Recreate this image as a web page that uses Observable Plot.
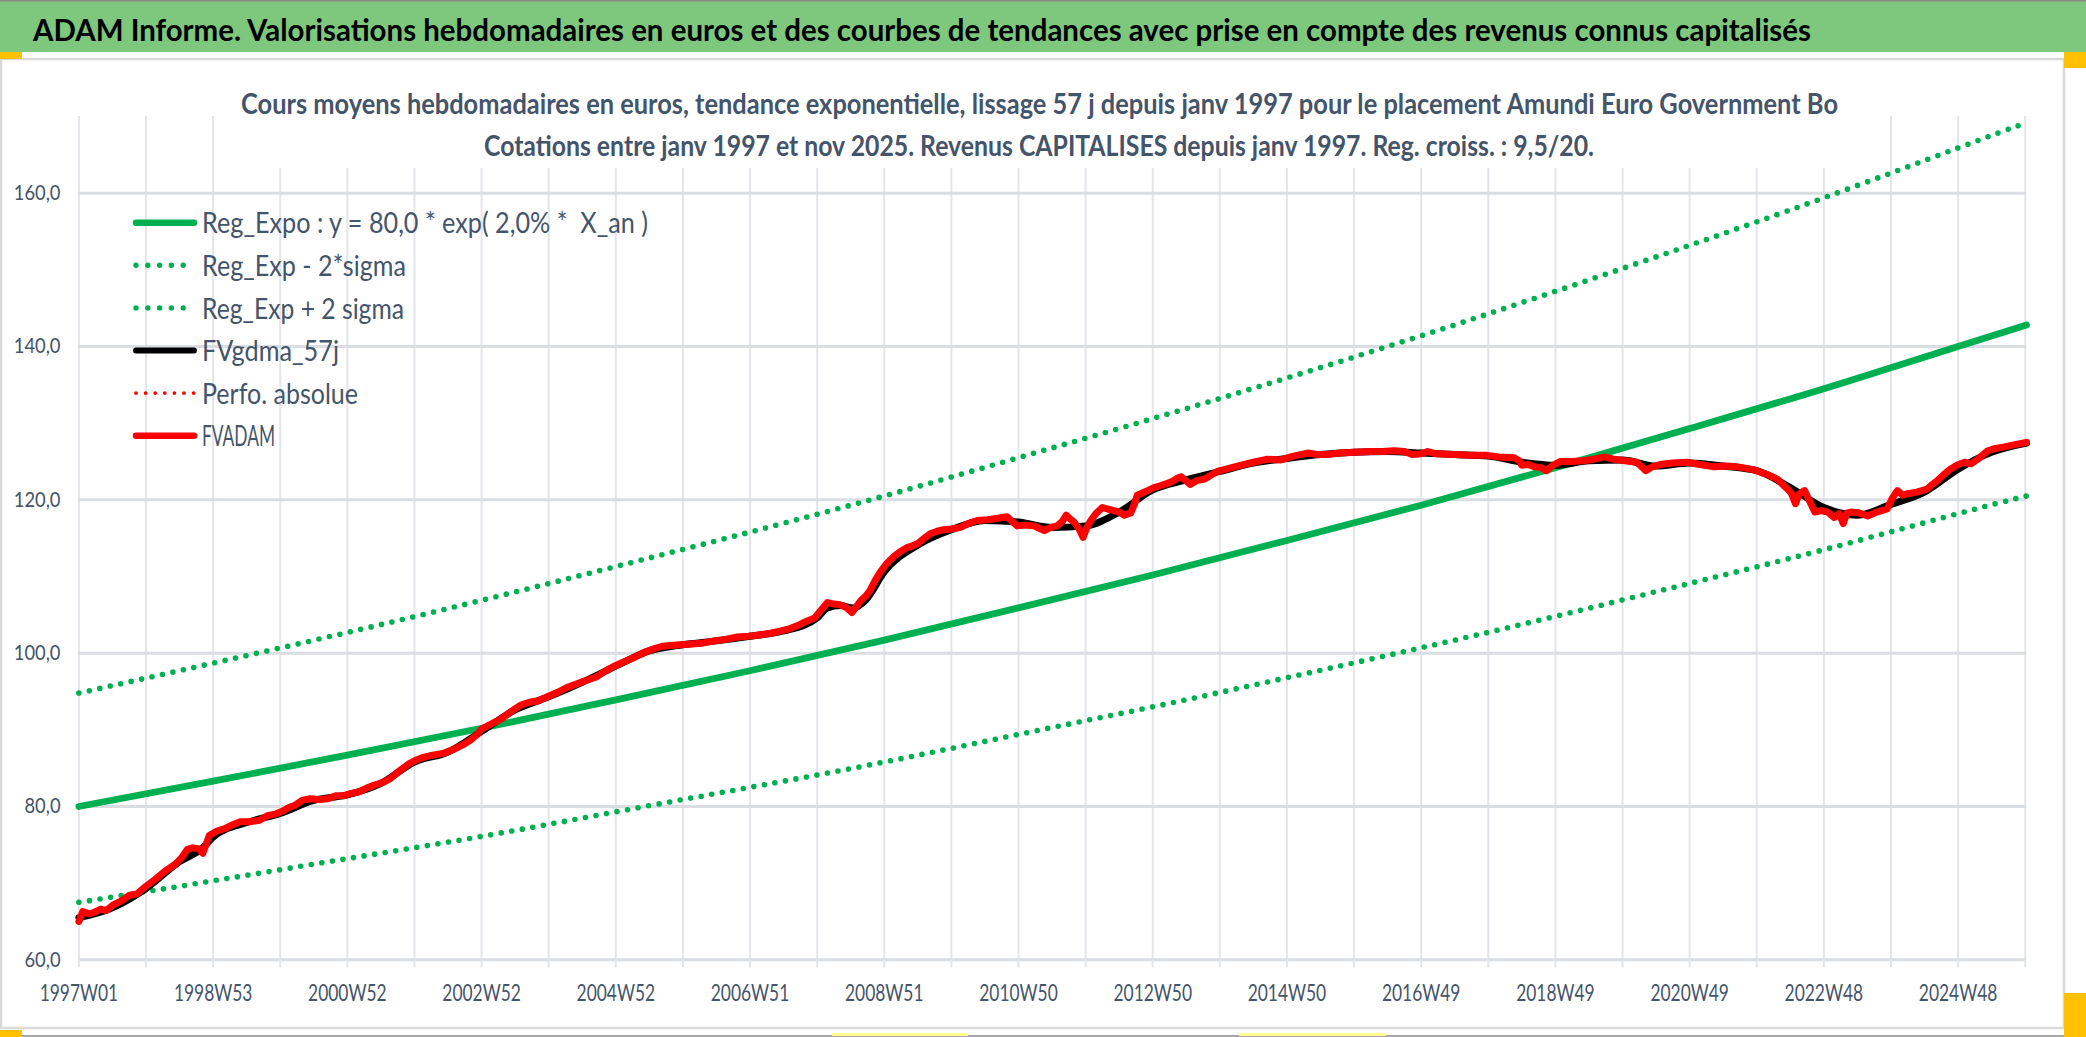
<!DOCTYPE html>
<html><head><meta charset="utf-8">
<script src="https://cdn.jsdelivr.net/npm/d3@7"></script>
<script src="https://cdn.jsdelivr.net/npm/@observablehq/plot@0.6"></script>
<style>
body{margin:0;background:#fff;}
#wrap{position:relative;width:2086px;height:1037px;overflow:hidden;background:#fff;font-family:Lato,sans-serif;}
#plot{position:absolute;left:0;top:0;}
#deco{position:absolute;left:0;top:0;}
</style></head><body><div id="wrap"><div id="plot"></div><svg id="deco" width="2086" height="1037"></svg></div>
<script>
// ---------- data ----------
const titleText = "ADAM Informe. Valorisations hebdomadaires en euros et des courbes de tendances avec prise en compte des revenus connus capitalisés";
const subtitle1 = "Cours moyens hebdomadaires en euros, tendance exponentielle, lissage 57 j depuis janv 1997 pour le placement Amundi Euro Government Bo";
const subtitle2 = "Cotations entre janv 1997 et nov 2025. Revenus CAPITALISES depuis janv 1997. Reg. croiss. : 9,5/20.";
const legendLabels = ["Reg_Expo : y = 80,0 * exp( 2,0% *  X_an )", "Reg_Exp - 2*sigma", "Reg_Exp + 2 sigma", "FVgdma_57j", "Perfo. absolue", "FVADAM"];

const xTickLabels = ["1997W01","1998W53","2000W52","2002W52","2004W52","2006W51","2008W51","2010W50","2012W50","2014W50","2016W49","2018W49","2020W49","2022W48","2024W48"];
const xLabelWeeks = [0,104,208,312,416,520,624,728,832,936,1040,1144,1248,1352,1456];
const xGridWeeks = [0,52,104,156,208,260,312,364,416,468,520,572,624,676,728,780,832,884,936,988,1040,1092,1144,1196,1248,1300,1352,1404,1456,1508];
const yTicks = [60,80,100,120,140,160];

// trend curves read at every labelled tick (week index) + last week
const trendWeek = [0,104,208,312,416,520,624,728,832,936,1040,1144,1248,1352,1456,1509];
const regExpo   = [80.0,83.3,86.7,90.2,93.9,97.7,101.7,105.9,110.2,114.7,119.3,124.2,129.3,134.5,140.0,142.8];
const regMinus  = [67.5,70.3,73.2,76.1,79.3,82.5,85.8,89.4,93.0,96.8,100.7,104.8,109.1,113.5,118.2,120.5];
const regPlus   = [94.8,98.7,102.7,106.9,111.3,115.8,120.5,125.5,130.6,135.9,141.4,147.2,153.2,159.4,165.9,169.2];

// FVADAM weekly valuation
const fvWeek = [0,3,8,12,17,21,27,33,39,45,52,60,67,75,80,84,88,93,96,101,107,113,119,125,132,140,146,152,158,163,167,173,179,186,193,199,205,211,217,223,229,235,241,248,256,262,267,274,282,291,297,303,308,312,320,327,335,342,349,356,363,371,378,386,394,401,408,416,423,431,438,446,452,458,466,474,483,492,501,510,519,528,536,544,551,557,563,570,575,580,585,590,595,599,603,606,610,613,617,621,626,632,637,642,646,650,655,660,665,670,676,683,689,696,704,712,719,723,727,733,740,744,748,753,758,762,765,768,771,775,778,781,784,788,793,797,802,806,810,815,818,820,828,833,839,846,851,854,857,861,866,872,877,882,891,900,910,921,931,941,952,960,967,977,988,1000,1010,1019,1027,1033,1040,1045,1052,1065,1078,1091,1100,1112,1116,1118,1123,1128,1133,1137,1142,1148,1157,1166,1174,1182,1189,1198,1207,1211,1214,1219,1225,1235,1246,1256,1267,1276,1285,1292,1298,1303,1308,1312,1316,1320,1324,1327,1330,1333,1337,1341,1345,1350,1355,1360,1364,1367,1370,1373,1379,1386,1393,1401,1405,1409,1413,1417,1424,1432,1436,1440,1445,1450,1455,1461,1466,1472,1479,1485,1492,1500,1509];
const fvValue = [65.0,66.3,66.0,66.2,66.6,66.4,67.2,67.7,68.4,68.6,69.6,70.6,71.6,72.5,73.4,74.4,74.6,74.5,73.9,76.2,76.8,77.1,77.6,78.0,78.0,78.2,78.8,79.0,79.4,79.9,80.1,80.8,81.0,80.9,81.0,81.4,81.4,81.7,81.9,82.4,82.8,83.1,83.6,84.6,85.6,86.1,86.4,86.7,86.9,87.5,88.0,88.6,89.3,90.1,90.8,91.4,92.4,93.2,93.6,93.8,94.3,94.9,95.5,96.0,96.5,96.9,97.7,98.4,98.9,99.5,100.1,100.6,100.9,101.0,101.1,101.2,101.3,101.6,101.8,102.1,102.2,102.4,102.6,102.9,103.2,103.6,104.1,104.6,105.6,106.6,106.4,106.3,105.9,105.3,106.2,106.9,107.5,108.2,109.5,110.6,111.7,112.7,113.3,113.8,114.0,114.3,115.0,115.6,115.9,116.1,116.2,116.4,116.9,117.3,117.4,117.6,117.8,117.2,116.6,116.7,116.6,116.3,116.0,116.4,116.6,117.2,118.0,117.5,117.1,116.2,115.1,116.4,117.3,118.2,119.0,118.8,118.6,118.4,118.0,118.3,119.5,120.6,121.2,121.6,121.9,122.3,122.8,123.0,122.6,122.0,122.5,122.7,123.2,123.7,124.1,124.5,124.9,125.3,125.2,125.7,126.1,125.9,125.9,126.1,126.2,126.3,126.3,126.4,126.3,125.9,126.0,126.3,126.0,125.9,125.8,125.8,125.6,125.5,125.1,124.5,124.6,124.3,124.2,123.8,124.5,125.0,125.0,125.1,125.3,125.6,125.3,125.1,124.9,124.3,123.8,124.3,124.6,124.8,124.9,124.6,124.3,124.4,124.3,124.1,123.9,123.6,123.3,123.0,122.7,122.0,121.4,120.8,119.5,120.8,121.2,119.8,118.4,118.6,118.4,117.7,118.2,116.9,118.3,118.4,118.3,117.9,118.4,118.8,120.2,121.2,120.6,120.8,121.0,121.4,122.0,122.5,123.3,124.0,124.5,124.9,124.7,125.4,126.4,126.7,126.9,127.2,127.5];

// FVgdma_57j smoothed curve
const gdWeek = [0,26,52,78,96,104,130,156,182,208,234,260,286,312,338,364,390,416,442,468,494,520,546,572,580,590,600,610,624,650,676,702,728,754,780,806,832,858,884,910,936,962,988,1014,1040,1066,1092,1118,1144,1170,1196,1222,1248,1274,1300,1326,1352,1378,1404,1430,1456,1482,1509];
const gdValue = [65.5,66.8,69.3,72.8,74.6,76.0,77.9,79.1,80.8,81.5,83.0,85.8,87.1,89.8,92.6,94.3,96.2,98.3,100.3,101.1,101.6,102.2,102.9,104.6,105.9,106.2,105.9,107.0,110.6,114.1,116.1,117.3,117.1,116.4,116.6,118.4,121.3,122.6,123.7,124.8,125.4,125.9,126.2,126.3,126.1,125.9,125.7,124.9,124.5,125.1,125.2,124.4,124.8,124.4,123.8,121.6,119.0,118.0,119.4,121.0,124.0,126.2,127.4];

// ---------- build ----------
const fv = fvWeek.map((w,i)=>({w, v: fvValue[i]}));
const gd = gdWeek.map((w,i)=>({w, v: gdValue[i]}));
const tr = trendWeek.map((w,i)=>({w, mid: regExpo[i], lo: regMinus[i], hi: regPlus[i]}));

const GREEN = "#00B050", RED = "#FF0000", TXT = "#44546A";

const chart = Plot.plot({
  width: 2086, height: 1037,
  marginLeft: 78.4, marginRight: 60, marginTop: 116, marginBottom: 77.7,
  style: {background: "transparent", fontFamily: "Lato, sans-serif", color: TXT, overflow: "visible"},
  x: {type: "linear", domain: [0, 1509], label: null},
  y: {domain: [60, 170], label: null},
  marks: [
    Plot.gridX(xGridWeeks, {stroke: "#E2E5EA", strokeOpacity: 1, strokeWidth: 2}),
    Plot.gridY(yTicks, {stroke: "#DADDE2", strokeOpacity: 1, strokeWidth: 3}),
    Plot.axisX(xGridWeeks, {tickSize: 8, tickFormat: () => "", stroke: "#E2E5EA", strokeWidth: 2}),
    Plot.axisX(xLabelWeeks, {tickSize: 0, tickPadding: 24, fontSize: 24, fill: TXT,
      tickFormat: d => xTickLabels[xLabelWeeks.indexOf(d)]}),
    Plot.axisY(yTicks, {tickSize: 0, tickPadding: 18.4, fontSize: 21, fill: TXT,
      tickFormat: d => d.toFixed(1).replace(".", ",")}),
    Plot.line(tr, {x: "w", y: "lo", curve: "natural", stroke: GREEN, strokeWidth: 5.6, strokeDasharray: "0 10.7", strokeLinecap: "round"}),
    Plot.line(tr, {x: "w", y: "hi", curve: "natural", stroke: GREEN, strokeWidth: 5.6, strokeDasharray: "0 10.7", strokeLinecap: "round"}),
    Plot.line(tr, {x: "w", y: "mid", curve: "natural", stroke: GREEN, strokeWidth: 6.8}),
    Plot.line(gd, {x: "w", y: "v", curve: "monotone-x", stroke: "#000", strokeWidth: 7}),
    Plot.line(fv, {x: "w", y: "v", stroke: RED, strokeWidth: 3, strokeDasharray: "0 7", strokeLinecap: "round"}),
    Plot.line(fv, {x: "w", y: "v", stroke: RED, strokeWidth: 7, strokeLinejoin: "round"})
  ]
});
document.getElementById("plot").appendChild(chart);

function squeezeAll(nodes, k) {
  nodes.forEach(t => {
    const n = t.getComputedTextLength();
    if (n > 0) { t.setAttribute("textLength", n * k); t.setAttribute("lengthAdjust", "spacingAndGlyphs"); }
  });
}
{
  const xl = [...chart.querySelectorAll('g[aria-label="x-axis tick label"] text')].filter(t => t.textContent.trim());
  if (xl.length) { const k = 78.5 / xl[0].getComputedTextLength(); squeezeAll(xl, k); }
  const yl = [...chart.querySelectorAll('g[aria-label="y-axis tick label"] text')].filter(t => t.textContent.trim());
  if (yl.length) { const top = yl.find(t => t.textContent === "160,0") || yl[yl.length-1]; const k = 46.7 / top.getComputedTextLength(); squeezeAll(yl, k); }
}

// ---------- decorations: title band, chart frame, subtitle, legend ----------
const deco = d3.select("#deco");
deco.append("rect").attr("x", 0).attr("y", 0).attr("width", 2086).attr("height", 52).attr("fill", "#7DC87D");
deco.append("line").attr("x1", 0).attr("x2", 2086).attr("y1", 0.75).attr("y2", 0.75).attr("stroke", "#8A8A8A").attr("stroke-width", 1.5);
deco.append("rect").attr("x", 1).attr("y", 59).attr("width", 2063).attr("height", 969).attr("fill", "none").attr("stroke", "#D9D9D9").attr("stroke-width", 2.5);
deco.append("line").attr("x1", 0).attr("x2", 2086).attr("y1", 1036).attr("y2", 1036).attr("stroke", "#8A8A8A").attr("stroke-width", 1.5);
// selection handles
const handles = [[0,52,22,7,"#FFC000"],[2064,52,22,16,"#FFC000"],[0,1030,22,7,"#FFC000"],[2064,993,22,44,"#FFC000"],[832,1033,136,3,"#FFFF8C"],[1239,1033,147,3,"#FFFF8C"]];
handles.forEach(([x,y,w,h,c]) => deco.append("rect").attr("x", x).attr("y", y).attr("width", w).attr("height", h).attr("fill", c));

function addText(txt, x, y, size, weight, fill, target, anchor) {
  const t = deco.append("text").attr("x", x).attr("y", y).attr("font-family", "Lato, sans-serif")
    .attr("font-size", size).attr("font-weight", weight).attr("fill", fill)
    .attr("text-anchor", anchor || "start").style("white-space", "pre").text(txt);
  if (target) t.attr("textLength", target).attr("lengthAdjust", "spacingAndGlyphs");
  return t;
}
addText(titleText, 33, 40.5, 31, 700, "#000", 1778);

deco.append("rect").attr("x", 232).attr("y", 80).attr("width", 1625).attr("height", 88).attr("fill", "#fff");
addText(subtitle1, 1039.5, 114, 28, 700, TXT, 1597, "middle");
addText(subtitle2, 1039, 156.3, 28, 700, TXT, 1110, "middle");

// legend
const legendWidths = [446, 204, 202, 137, 156, 73];
const legendStyles = [
  {stroke: GREEN, w: 6.5, dash: null},
  {stroke: GREEN, w: 5.4, dash: "0 11.8"},
  {stroke: GREEN, w: 5.4, dash: "0 11.8"},
  {stroke: "#000", w: 6, dash: null},
  {stroke: RED, w: 3.8, dash: "0 9.6"},
  {stroke: RED, w: 6.5, dash: null}
];
legendLabels.forEach((lab, i) => {
  const cy = 222.7 + 42.6 * i;
  const s = legendStyles[i];
  const ln = deco.append("line").attr("x1", 136).attr("x2", 194).attr("y1", cy).attr("y2", cy)
    .attr("stroke", s.stroke).attr("stroke-width", s.w).attr("stroke-linecap", "round");
  if (s.dash) ln.attr("stroke-dasharray", s.dash);
  addText(lab, 202, cy + 10.6, 29, 400, TXT, legendWidths[i]);
});
</script></body></html>
